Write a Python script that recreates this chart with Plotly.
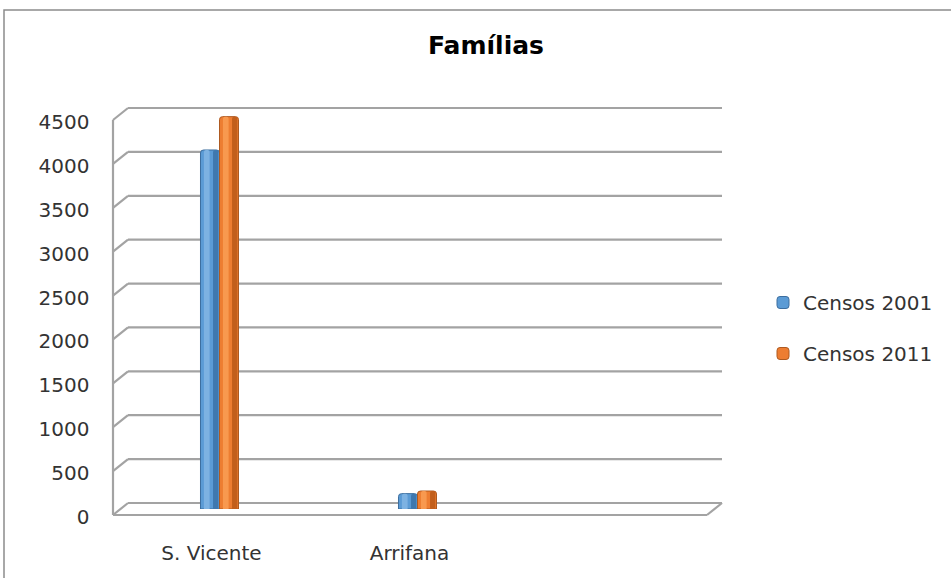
import plotly.graph_objects as go

# ---- data -------------------------------------------------------------
categories = ["S. Vicente", "Arrifana"]
series_names = ["Censos 2001", "Censos 2011"]
censos_2001 = [4090, 175]
censos_2011 = [4470, 205]
y_ticks = [0, 500, 1000, 1500, 2000, 2500, 3000, 3500, 4000, 4500]

# ---- page geometry (pixels) ------------------------------------------
W, H = 951, 578
BACK_L, BACK_R = 128, 722      # back wall left/right edge
FRONT_L, FRONT_R = 113, 707    # front floor edge
DEPTH = 6                      # half of the perspective offset (px)
Y_ZERO, Y_TOP = 509, 114       # bar axis: value 0 and 4500 at mid depth
Y_MAX = 4500

GRID = "#A3A3A3"
TXT = "#333333"
FONT = "DejaVu Sans"


def px(x):
    return x / W


def py(y):
    return 1 - y / H


def level(v):
    """Pixel row of value v at mid depth (same mapping as the y axis)."""
    return Y_ZERO - (Y_ZERO - Y_TOP) * v / Y_MAX


fig = go.Figure()

bar_w = 0.096  # one bar, in category units
styles = [
    # base, shadow, highlight, outline
    ("#5B9BD5", "#3F78AE", "#7DB2E2", "#3C6E9F"),
    ("#ED7D31", "#C25F1C", "#F8994F", "#AE5A21"),
]
for i, (name, vals) in enumerate(zip(series_names, [censos_2001, censos_2011])):
    base, shadow, light, edge = styles[i]
    off = -bar_w if i == 0 else 0.0
    fig.add_trace(go.Bar(
        x=categories, y=vals, name=name, width=bar_w, offset=off,
        marker=dict(color=base, line=dict(color=edge, width=1), cornerradius=3),
        legendgroup=name,
    ))
    # cylinder shading: darker right side, lighter strip left of centre
    fig.add_trace(go.Bar(
        x=categories, y=vals, width=bar_w * 0.28, offset=off + bar_w * 0.66,
        marker=dict(color=shadow, line=dict(width=0), cornerradius=2),
        showlegend=False, hoverinfo="skip",
    ))
    fig.add_trace(go.Bar(
        x=categories, y=vals, width=bar_w * 0.3, offset=off + bar_w * 0.18,
        marker=dict(color=light, line=dict(width=0), cornerradius=2),
        showlegend=False, hoverinfo="skip",
    ))

# ---- walls and gridlines drawn in perspective ------------------------
shapes = []
line = dict(color=GRID, width=2.2)


def seg(x0, y0, x1, y1, ln=line):
    shapes.append(dict(type="line", xref="paper", yref="paper",
                       x0=px(x0), y0=py(y0), x1=px(x1), y1=py(y1),
                       line=ln, layer="below"))


for v in y_ticks:
    y = level(v)
    seg(BACK_L, y - DEPTH, BACK_R, y - DEPTH)      # back wall gridline
    seg(FRONT_L, y + DEPTH, BACK_L, y - DEPTH)     # side wall diagonal
seg(FRONT_L, level(0) + DEPTH, FRONT_L, level(Y_MAX) + DEPTH)   # side wall edge
seg(FRONT_L, level(0) + DEPTH, FRONT_R, level(0) + DEPTH)       # floor front
seg(FRONT_R, level(0) + DEPTH, BACK_R, level(0) - DEPTH)        # floor corner

# chart area border
shapes.append(dict(type="path", xref="paper", yref="paper",
                   path=f"M {px(4)},0 L {px(4)},{py(10)} L 1,{py(10)}",
                   line=dict(color="#8C8C8C", width=1.5)))

fig.update_layout(
    width=W, height=H,
    margin=dict(l=0, r=0, t=0, b=0, autoexpand=False),
    paper_bgcolor="white", plot_bgcolor="rgba(0,0,0,0)",
    barmode="overlay",
    shapes=shapes,
    font=dict(family=FONT, color=TXT, size=20),
    title=dict(text="<b>Famílias</b>", x=px(486), y=py(45), xanchor="center",
               yanchor="middle", font=dict(family=FONT, size=25, color="#000000")),
    xaxis=dict(
        domain=[px(FRONT_L + DEPTH * 1.25), px(FRONT_R + DEPTH * 1.25)],
        type="category", categoryorder="array", categoryarray=categories,
        range=[-0.5, 2.5], showgrid=False, showline=False, zeroline=False,
        ticks="", ticklabelshift=-8, ticklabelstandoff=30,
        tickfont=dict(size=20, color=TXT), fixedrange=True, automargin=False,
    ),
    yaxis=dict(
        domain=[py(Y_ZERO), py(Y_TOP)], range=[0, Y_MAX],
        tickmode="array", tickvals=y_ticks,
        showgrid=False, showline=False, zeroline=False, ticks="",
        ticklabelshift=DEPTH + 2, ticklabelstandoff=30,
        tickfont=dict(size=20, color=TXT), fixedrange=True, automargin=False,
    ),
    legend=dict(x=px(763), y=py(283), xanchor="left", yanchor="top",
                traceorder="grouped", tracegroupgap=22,
                font=dict(size=20, color=TXT), bgcolor="rgba(0,0,0,0)"),
    showlegend=True,
)

fig.write_html("out.html")
